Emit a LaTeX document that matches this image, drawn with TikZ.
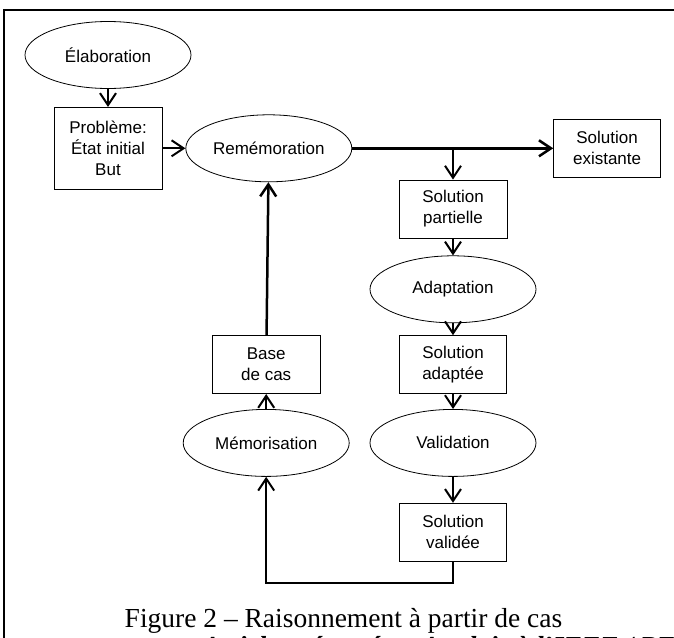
\documentclass[tikz,border=0pt]{standalone}
\usepackage{fontspec}
\setmainfont{Liberation Serif}
\setsansfont{Liberation Sans}
\usepackage{tikz}
\usetikzlibrary{arrows.meta,shapes,positioning,calc}
\tikzset{ % Standard box, ellipse and line style
    block/.style={rectangle, draw, line width=0.8pt, text centered, minimum width=107pt, minimum height=58pt, inner sep=0pt, font=\sffamily\fontsize{17}{21}\selectfont},
    phase/.style={ellipse, draw, line width=0.8pt, text centered, minimum width=166pt, minimum height=67pt, inner sep=0pt, font=\sffamily\fontsize{17}{21}\selectfont},
    line/.style={draw, line width=2pt, -{Straight Barb[length=12pt,width=16pt]}}
}

\begin{document}
\begin{tikzpicture}[x=1pt, y=-1pt, align=center]
	\clip (0,0) rectangle (674,637);
	\draw[line width=2pt] (4,700) -- (4,10) -- (700,10);
	%Nodes
	\node[phase]   (elab) at (108,55)   {Élaboration};
	\node[block, below=18pt of elab, minimum width=108pt, minimum height=82pt]   (prob)   {Problème:\\État initial\\But};
	\node[phase, right=23pt of prob]   (remem)   {Remémoration};
	\node[block, right=201pt of remem]   (solex)   {Solution\\existante};
	\node[block, minimum width=108pt]   (solpar) at (453,209)   {Solution\\partielle};
	\node[phase, below=17pt of solpar]   (adapt)   {Adaptation};
	\node[block, below=12pt of adapt]   (soladapt)   {Solution\\adaptée};
	\node[phase, below=15pt of soladapt]   (valid)   {Validation};
	\node[block, below=26pt of valid]   (solval)   {Solution\\validée};
	\node[phase, left=20pt of valid]   (memo)   {Mémorisation};
	\node[block, above=15pt of memo, minimum width=108pt]   (base)   {Base\\de cas};
	\coordinate (branch) at (solpar.north |- remem.east);
	\coordinate (loop) at (453,583);
	%Edges
	\draw [line] (elab) -- (prob);
	\draw [line] (prob) -- (remem);
	\draw [line, line width=2.5pt] (remem.east) -- (solex.west);
	\draw [line] (branch) -- (solpar.north);
	\draw [line] (solpar) -- (adapt);
	\draw [line] (adapt) -- (soladapt);
	\draw [line] (soladapt) -- (valid);
	\draw [line] (valid) -- (solval);
	\draw [line] (solval.south) -- (loop) -| (memo.south);
	\draw [line] (memo) -- (base);
	\draw [line, line width=2.5pt] (base) -- (remem);
	%Caption
	\node[font=\fontsize{27.5}{30}\selectfont, anchor=base, inner sep=0pt]   (caption) at (343.5,627)   {Figure 2 – Raisonnement à partir de cas};
	\node[font=\bfseries\itshape\fontsize{27.5}{30}\selectfont, anchor=base west, inner sep=0pt]   (source) at (202,655)   {Article présenté en Anglais à l'IEEE / PES};
\end{tikzpicture}
\end{document}
